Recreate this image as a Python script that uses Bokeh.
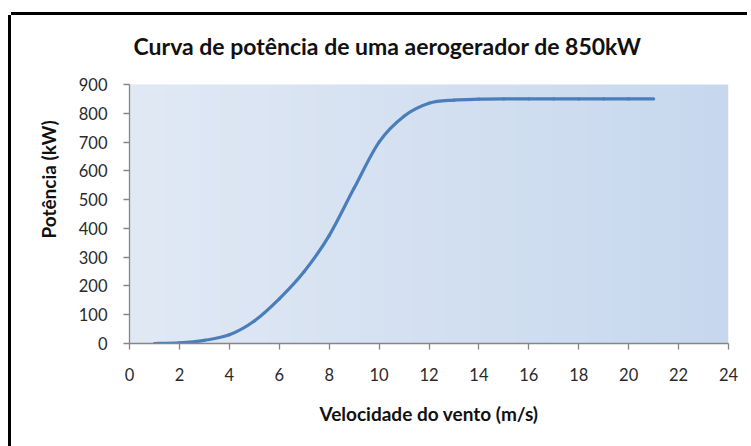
import numpy as np
from bokeh.plotting import figure
from bokeh.layouts import column
from bokeh.models import Range1d, FixedTicker
from bokeh.core.properties import value
from bokeh.embed import file_html
from bokeh.resources import INLINE

# ---- data ----
velocidade = [1, 2, 3, 4, 5, 6, 7, 8, 9, 10, 11, 12, 13, 14, 15, 16, 17, 18, 19, 20, 21]
potencia = [0, 2, 11, 30, 78, 155, 250, 375, 540, 700, 790, 835, 846, 849, 850, 850, 850, 850, 850, 850, 850]
x_ticks = [0, 2, 4, 6, 8, 10, 12, 14, 16, 18, 20, 22, 24]
y_ticks = [0, 100, 200, 300, 400, 500, 600, 700, 800, 900]
titulo = "Curva de potência de uma aerogerador de 850kW"
rotulo_x = "Velocidade do vento (m/s)"
rotulo_y = "Potência (kW)"

FONT = "Lato"
AXIS_GRAY = "#868686"

# layout (canvas pixels)
W, H = 736, 431
LEFT, RIGHT, BOTTOM = 118, 19, 103
PLOT_TOP = 69          # top of the shaded plot area, from canvas top
TITLE_Y = 30           # title centre, from canvas top
TITLE_DX = 258         # title centre, from left edge of plot area

frame_h = H - BOTTOM
y_top = y_ticks[-1] * frame_h / (frame_h - PLOT_TOP)
px_x = (x_ticks[-1] - x_ticks[0]) / (W - LEFT - RIGHT)

p = figure(width=W, height=H, output_backend="svg", toolbar_location=None,
           x_range=Range1d(x_ticks[0], x_ticks[-1]), y_range=Range1d(y_ticks[0], y_top),
           min_border_left=LEFT, min_border_right=RIGHT, min_border_top=0, min_border_bottom=BOTTOM)
p.background_fill_color = "white"
p.border_fill_color = "white"
p.outline_line_color = None
p.grid.grid_line_color = None

# plot-area gradient (horizontal, light to slightly darker blue)
nx, ny = 240, 2
img = np.empty((ny, nx), dtype=np.uint32)
view = img.view(dtype=np.uint8).reshape((ny, nx, 4))
t = np.linspace(0, 1, nx)
c0 = np.array([225, 233, 245])
c1 = np.array([199, 216, 238])
for k in range(3):
    view[:, :, k] = (c0[k] + (c1[k] - c0[k]) * t).astype(np.uint8)
view[:, :, 3] = 255
p.image_rgba(image=[img], x=x_ticks[0], y=y_ticks[0], dw=x_ticks[-1] - x_ticks[0], dh=y_ticks[-1] - y_ticks[0])

# smoothed line through the data points (Catmull-Rom -> cubic Bezier)
xs = np.array(velocidade, dtype=float)
ys = np.array(potencia, dtype=float)
n = len(xs)
xp = np.concatenate([[xs[0]], xs, [xs[-1]]])
yp = np.concatenate([[ys[0]], ys, [ys[-1]]])
x0 = xs[:-1]; y0 = ys[:-1]; x1 = xs[1:]; y1 = ys[1:]
cx0 = x0 + (xp[2:n+1] - xp[0:n-1]) / 6.0
cy0 = y0 + (yp[2:n+1] - yp[0:n-1]) / 6.0
cx1 = x1 - (xp[3:n+2] - xp[1:n]) / 6.0
cy1 = y1 - (yp[3:n+2] - yp[1:n]) / 6.0
p.bezier(x0=x0, y0=y0, x1=x1, y1=y1, cx0=cx0, cy0=cy0, cx1=cx1, cy1=cy1,
         line_color="#4a7ebb", line_width=3.2, line_cap="round")

# title, drawn in the white band above the shaded area
p.text(x=[x_ticks[0] + TITLE_DX * px_x], y=[y_top * (frame_h - TITLE_Y) / frame_h], text=[titulo],
       text_font=value(FONT), text_font_size=value("23px"), text_font_style="bold",
       text_color="#111111", text_align="center", text_baseline="middle")

for ax in (p.xaxis[0], p.yaxis[0]):
    ax.axis_line_color = AXIS_GRAY
    ax.axis_line_width = 1.3
    ax.major_tick_line_color = AXIS_GRAY
    ax.major_tick_line_width = 1.3
    ax.major_tick_out = 6
    ax.major_tick_in = 0
    ax.minor_tick_line_color = None
    ax.major_label_text_font = FONT
    ax.major_label_text_font_size = "16.5px"
    ax.major_label_text_color = "#2a2a2a"
    ax.axis_label_text_font = FONT
    ax.axis_label_text_font_size = "19px"
    ax.axis_label_text_font_style = "bold"
    ax.axis_label_text_color = "#111111"

p.xaxis.ticker = FixedTicker(ticks=x_ticks)
p.yaxis.ticker = FixedTicker(ticks=y_ticks)
p.yaxis.bounds = (y_ticks[0], y_ticks[-1])
p.xaxis.axis_label = rotulo_x
p.yaxis.axis_label = rotulo_y
p.xaxis.major_label_standoff = 18
p.xaxis.axis_label_standoff = 18
p.yaxis.major_label_standoff = 16
p.yaxis.axis_label_standoff = 16

# black frame on top and left: two separate shadows, no horizontal offset on the top one
layout = column(p, styles={"box-shadow": "-3px 0 0 0 #000000, 0 -3px 0 0 #000000",
                           "margin-top": "15px", "margin-left": "11px"})

open("out.html", "w").write(file_html(layout, INLINE))
